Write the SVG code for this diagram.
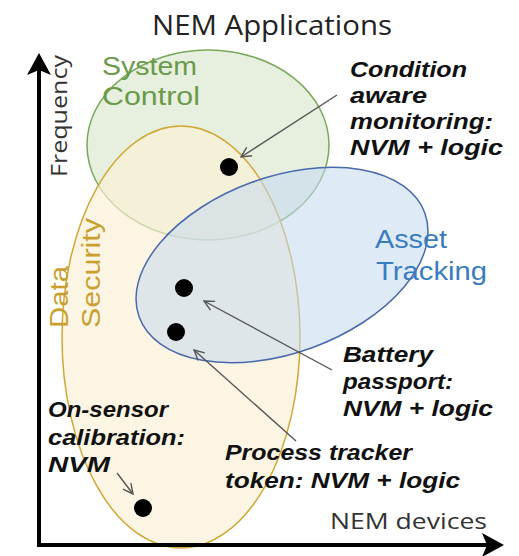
<svg xmlns="http://www.w3.org/2000/svg" width="519" height="556" viewBox="0 0 519 556">
<style>
text{font-family:"Open Sans","Liberation Sans",sans-serif}
.lbl{font-family:"Liberation Sans",Arial,sans-serif;font-weight:bold;font-style:italic;font-size:22px;fill:#111}
.ax{font-size:21px;fill:#333}
.cat{font-family:"Liberation Sans",Arial,sans-serif;font-size:26px}
.conn{stroke:#555;stroke-width:1.4;fill:none;marker-end:url(#open)}
.dot{fill:#000}
</style>
<defs>
<marker id="open" viewBox="0 0 12 12" refX="11" refY="6" markerWidth="12" markerHeight="12" markerUnits="userSpaceOnUse" orient="auto">
<path d="M1,1 L11,6 L1,11" fill="none" stroke="#555" stroke-width="1.4"/>
</marker>
</defs>
<rect width="519" height="556" fill="#fff"/>
<g id="system-control">
<ellipse cx="208" cy="145" rx="121" ry="95" fill="#dde9d2" fill-opacity="0.7" stroke="#78a85a" stroke-width="1.5"/>
</g>
<g id="data-security">
<ellipse cx="181" cy="337" rx="119" ry="211" fill="#fcf0d4" fill-opacity="0.65" stroke="#cfa838" stroke-width="1.5"/>
</g>
<g id="asset-tracking">
<ellipse cx="282" cy="265" rx="152" ry="88" transform="rotate(-20 282 265)" fill="#c4d8f0" fill-opacity="0.55" stroke="#4a68ac" stroke-width="1.5"/>
</g>
<g id="axes">
<line x1="39" y1="70" x2="39" y2="547" stroke="#000" stroke-width="4"/>
<polygon points="39,53 27,75 39,70 51,75" fill="#000"/>
<line x1="37" y1="545" x2="488" y2="545" stroke="#000" stroke-width="4"/>
<polygon points="504,545 482,533 487,545 482,557" fill="#000"/>
</g>
<g id="title"><text x="152" y="35" font-size="28" fill="#222" textLength="240" lengthAdjust="spacingAndGlyphs">NEM Applications</text></g>
<g id="y-label"><text class="ax" transform="translate(67 177) rotate(-90)" textLength="122" lengthAdjust="spacingAndGlyphs">Frequency</text></g>
<g id="x-label"><text class="ax" x="330" y="529" textLength="157" lengthAdjust="spacingAndGlyphs">NEM devices</text></g>
<g id="system-control-label"><text class="cat" fill="#6a9a4a"><tspan x="102" y="75" textLength="95" lengthAdjust="spacingAndGlyphs">System</tspan><tspan x="102" y="105" textLength="98" lengthAdjust="spacingAndGlyphs">Control</tspan></text></g>
<g id="asset-tracking-label"><text class="cat" fill="#3a7cc0"><tspan x="375" y="248" textLength="72" lengthAdjust="spacingAndGlyphs">Asset</tspan><tspan x="376" y="280" textLength="111" lengthAdjust="spacingAndGlyphs">Tracking</tspan></text></g>
<g id="data-security-label"><text class="cat" fill="#c9a030" transform="translate(68 328) rotate(-90)"><tspan x="0" y="0" textLength="62" lengthAdjust="spacingAndGlyphs">Data</tspan><tspan x="0" y="32" textLength="110" lengthAdjust="spacingAndGlyphs">Security</tspan></text></g>
<g id="condition-aware">
<circle class="dot" cx="229" cy="167" r="9"/>
<text class="lbl"><tspan x="350" y="77" textLength="117" lengthAdjust="spacingAndGlyphs">Condition</tspan><tspan x="350" y="103" textLength="77" lengthAdjust="spacingAndGlyphs">aware</tspan><tspan x="350" y="129" textLength="143" lengthAdjust="spacingAndGlyphs">monitoring:</tspan><tspan x="350" y="155" textLength="153" lengthAdjust="spacingAndGlyphs">NVM + logic</tspan></text>
</g>
<g id="battery-passport">
<circle class="dot" cx="184" cy="288" r="9"/>
<text class="lbl"><tspan x="343" y="362" textLength="90" lengthAdjust="spacingAndGlyphs">Battery</tspan><tspan x="343" y="389" textLength="110" lengthAdjust="spacingAndGlyphs">passport:</tspan><tspan x="343" y="416" textLength="150" lengthAdjust="spacingAndGlyphs">NVM + logic</tspan></text>
</g>
<g id="process-tracker">
<circle class="dot" cx="176" cy="332" r="9"/>
<text class="lbl"><tspan x="225" y="460" textLength="187" lengthAdjust="spacingAndGlyphs">Process tracker</tspan><tspan x="225" y="488" textLength="235" lengthAdjust="spacingAndGlyphs">token: NVM + logic</tspan></text>
</g>
<g id="on-sensor">
<circle class="dot" cx="143" cy="508" r="9"/>
<text class="lbl"><tspan x="48" y="417" textLength="120" lengthAdjust="spacingAndGlyphs">On-sensor</tspan><tspan x="48" y="445" textLength="137" lengthAdjust="spacingAndGlyphs">calibration:</tspan><tspan x="48" y="472" textLength="62" lengthAdjust="spacingAndGlyphs">NVM</tspan></text>
</g>
<g id="connectors">
<line class="conn" x1="337" y1="95" x2="241" y2="157"/>
<line class="conn" x1="332" y1="370" x2="204" y2="301"/>
<line class="conn" x1="296" y1="441" x2="194" y2="350"/>
<line class="conn" x1="117" y1="473" x2="133" y2="494"/>
</g>
</svg>
